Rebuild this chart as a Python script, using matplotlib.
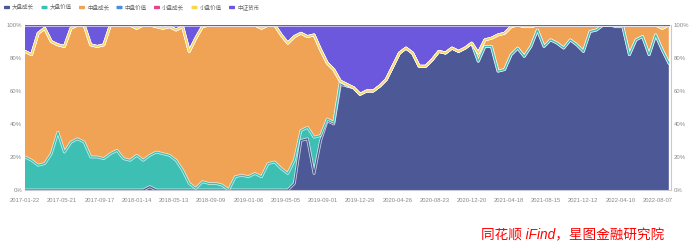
import numpy as np
import pandas as pd
import matplotlib
matplotlib.use("Agg")
import matplotlib.pyplot as plt
import matplotlib.patheffects as pe
from matplotlib.patches import FancyBboxPatch
from matplotlib.ticker import FuncFormatter

plt.rcParams['font.family'] = ['Liberation Sans', 'Noto Sans CJK SC']

# --- data: weekly samples every 3 weeks, share of holdings in % ---
start = "2017-01-22"
n_pts = 99

large_growth = [
    0, 0, 0, 0, 0, 0, 0, 0, 0, 0,
    0, 0, 0, 0, 0, 0, 0, 0, 0, 2,
    0, 0, 0, 0, 0, 0, 0, 0, 0, 0,
    0, 0, 0, 0, 0, 0, 0, 0, 0, 0,
    0, 4, 30, 31, 10, 30, 42, 40, 64, 63,
    62, 58, 60, 60, 63, 67, 75, 83, 86, 83,
    75, 75, 79, 84, 83, 86, 84, 86, 89, 78,
    87, 87, 72, 73, 82, 86, 81, 87, 97, 87,
    91, 89, 86, 91, 88, 84, 96, 97, 100, 100,
    99, 99, 82, 91, 93, 82, 94, 85, 77,
]
large_value = [
    20, 18, 15, 16, 22, 35, 23, 29, 31, 29,
    20, 20, 19, 22, 24, 19, 18, 21, 18, 19,
    23, 22, 21, 18, 12, 4, 1, 5, 4, 4,
    3, 0, 8, 9, 8, 10, 8, 16, 17, 13,
    10, 14, 6, 7, 22, 3, 1, 1, 2, 0,
    0, 0, 0, 0, 0, 0, 0, 0, 0, 0,
    0, 0, 0, 0, 0, 0, 0, 0, 0, 0,
    0, 0, 0, 0, 0, 0, 0, 0, 0, 0,
    0, 0, 0, 0, 0, 0, 0, 0, 0, 0,
    0, 0, 0, 0, 0, 0, 0, 0, 0,
]
mid_growth = [
    64, 64, 80, 82, 68, 53, 64, 69, 69, 71,
    68, 67, 69, 78, 76, 81, 82, 77, 82, 79,
    76, 76, 78, 79, 87, 80, 91, 94, 96, 96,
    97, 100, 92, 91, 92, 90, 90, 84, 83, 81,
    79, 75, 59, 55, 62, 52, 34, 32, 0, 1,
    0, 0, 0, 0, 0, 0, 0, 0, 0, 0,
    0, 0, 0, 0, 0, 0, 0, 0, 0, 5,
    4, 5, 22, 22, 17, 14, 18, 12, 3, 13,
    9, 11, 14, 9, 12, 16, 4, 3, 0, 0,
    1, 1, 18, 9, 7, 18, 6, 13, 23,
]
mid_value = [0] * n_pts
small_growth = [0] * n_pts
small_value = [0] * n_pts
money_fund = [
    16, 18, 5, 2, 10, 12, 13, 2, 0, 0,
    12, 13, 12, 0, 0, 0, 0, 2, 0, 0,
    1, 2, 1, 3, 1, 16, 8, 1, 0, 0,
    0, 0, 0, 0, 0, 0, 2, 0, 0, 6,
    11, 7, 5, 7, 6, 15, 23, 27, 34, 36,
    38, 42, 40, 40, 37, 33, 25, 17, 14, 17,
    25, 25, 21, 16, 17, 14, 16, 14, 11, 17,
    9, 8, 6, 5, 1, 0, 1, 1, 0, 0,
    0, 0, 0, 0, 0, 0, 0, 0, 0, 0,
    0, 0, 0, 0, 0, 0, 0, 2, 0,
]

names = ["大盘成长", "大盘价值", "中盘成长", "中盘价值", "小盘成长", "小盘价值", "中证货币"]
colors = ["#4d5896", "#3dbfb3", "#f1a355", "#4a8fdc", "#e1468f", "#f6d84a", "#6c58dd"]
series = [large_growth, large_value, mid_growth, mid_value, small_growth, small_value, money_fund]

dates = pd.date_range(start, periods=n_pts, freq="21D")
tick_dates = pd.date_range(start, "2022-08-07", freq="119D")

W, H = 691, 245
fig = plt.figure(figsize=(W / 100, H / 100), dpi=100)
ax = fig.add_axes([25 / W, 55 / H, 646 / W, 165 / H])

ax.stackplot(dates, *series, colors=colors, linewidth=0)

# series lines on top of each stacked band
tops = np.cumsum(np.array(series, dtype=float), axis=0)
halo = [pe.Stroke(linewidth=2.0, foreground="white", alpha=0.75), pe.Normal()]
for top, c in zip(tops, colors):
    ax.plot(dates, top, color=c, lw=0.9, path_effects=halo, solid_joinstyle="round")

ax.set_xlim(pd.Timestamp(start), pd.Timestamp("2022-09-18"))
ax.set_ylim(0, 100)
ax.set_yticks(range(0, 101, 20))
ax.yaxis.set_major_formatter(FuncFormatter(lambda v, p: f"{v:.0f}%"))
ax.set_xticks(tick_dates)
ax.set_xticklabels([d.strftime("%Y-%m-%d") for d in tick_dates])
ax.tick_params(axis="x", length=0, pad=5.5, labelsize=4.2, colors="#888888")
ax.tick_params(axis="y", length=0, pad=2, labelsize=4.3, colors="#888888",
               labelright=True, labelleft=True)
for side in ["top", "left"]:
    ax.spines[side].set_visible(False)
ax.spines["bottom"].set_color("#c9c9d6")
ax.spines["right"].set_color("#c9c9d6")
ax.spines["bottom"].set_linewidth(0.8)
ax.spines["right"].set_linewidth(0.8)

# legend row drawn by hand so every label sits on the same baseline
for k, (name, c) in enumerate(zip(names, colors)):
    x0 = 4 + k * 37.5
    fig.add_artist(FancyBboxPatch((x0 / W, 1 - 9.2 / H), 6 / W, 3.4 / H,
                                  boxstyle="round,pad=0,rounding_size=0.002",
                                  transform=fig.transFigure, facecolor=c,
                                  edgecolor="none"))
    fig.text((x0 + 8) / W, 1 - 9.6 / H, name, fontsize=4.0, color="#666666",
             ha="left", va="baseline")

fig.text(0.962, 0.04, "同花顺 iFind，星图金融研究院", color="red", fontsize=9.8,
         ha="right", va="center", style="italic")

fig.savefig("out.png", dpi=100)
